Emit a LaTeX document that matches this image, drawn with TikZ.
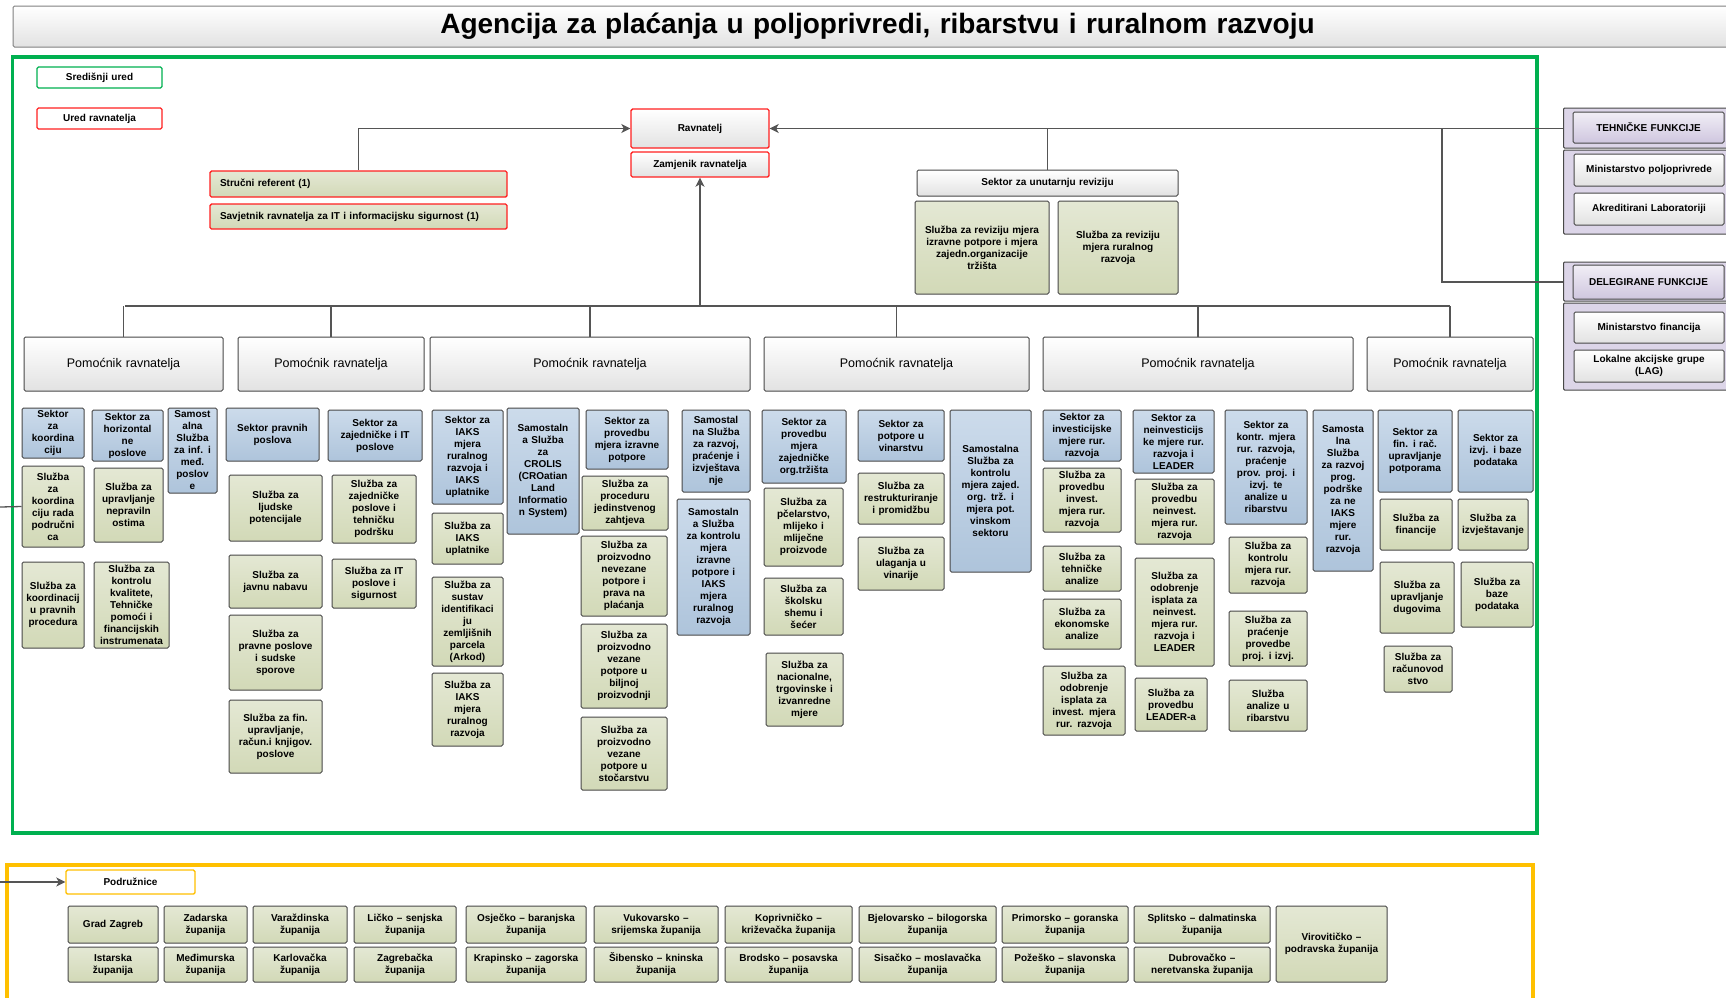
\documentclass[tikz,border=0pt]{standalone}
\usepackage{fontspec}
\setmainfont{Liberation Sans}
\usetikzlibrary{arrows.meta}

\definecolor{zelena}{HTML}{00B050}
\definecolor{crvena}{HTML}{FF2020}
\definecolor{zuta}{HTML}{FFC000}
\definecolor{rub}{HTML}{484848}
\definecolor{linija}{HTML}{555555}
\definecolor{maslinagore}{HTML}{E4E8D4}
\definecolor{maslinadolje}{HTML}{D2D9B7}
\definecolor{plavagore}{HTML}{CCDBEB}
\definecolor{plavadolje}{HTML}{AEC4DB}
\definecolor{sivadolje}{HTML}{E2E2E2}
\definecolor{ljubicasta}{HTML}{DCD5E8}
\definecolor{ljubicastadolje}{HTML}{CFC6DF}

\tikzset{
  span/.style args={#1,#2,#3,#4}{at={({(#1+#3)/2},{(#2+#4)/2})},
    minimum width={(#3-#1)*1pt}, minimum height={(#4-#2)*1pt},
    text width={(#3-#1-4)*1pt}},
  kutija/.style={draw=rub, line width=1pt, rounded corners=1.5pt, inner sep=1pt,
    align=center, font=\fontsize{10}{12}\selectfont\bfseries},
  sluzba/.style={kutija, top color=maslinagore, bottom color=maslinadolje},
  sektor/.style={kutija, top color=plavagore, bottom color=plavadolje},
  pomocnik/.style={kutija, top color=white, bottom color=sivadolje,
    font=\fontsize{12.5}{14}\selectfont},
  bijela/.style={kutija, top color=white, bottom color=sivadolje},
  ured/.style={draw=crvena, line width=1.4pt},
  grupa/.style={draw=rub, line width=1pt, fill=ljubicasta, rounded corners=1pt},
  veza/.style={draw=linija, line width=1.3pt},
  strelica/.style={veza, -{Stealth[length=9pt,width=9pt,inset=2.5pt]}},
}

\begin{document}
\begin{tikzpicture}[x=1pt,y=-1pt]
  \useasboundingbox (0,0) rectangle (1726,997);
  \clip (0,0) rectangle (1726,997);

  % naslov
  \node[bijela, draw=gray, span={13,6,1742,47}, font=\fontsize{28}{32}\selectfont\bfseries] (naslov)
    {Agencija za plaćanja u poljoprivredi, ribarstvu i ruralnom razvoju};

  % okviri
  \draw[zelena, line width=3.5pt] (12.5,57) rectangle (1537,833);
  \draw[zuta, line width=3.5pt] (7,865) rectangle (1533,1010);

  % legenda
  \node[kutija, fill=white, draw=zelena, line width=1.4pt, span={37,67,162,88}] (sredisnji) {Središnji ured};
  \node[kutija, fill=white, ured, span={37,108,162,129}] (uredrav) {Ured ravnatelja};

  % ured ravnatelja
  \node[bijela, ured, span={631,109,769,148}] (ravnatelj) {Ravnatelj};
  \node[bijela, ured, span={631,152,769,177}] (zamjenik) {Zamjenik ravnatelja};
  \node[sluzba, ured, align=left, span={210,171,507,197}, text width=277pt] (strucni) {Stručni referent (1)};
  \node[sluzba, ured, align=left, span={210,204,507,229}, text width=277pt] (savjetnik)
    {Savjetnik ravnatelja za IT i informacijsku sigurnost (1)};

  % unutarnja revizija
  \node[bijela, span={917,170,1178,196}] (revizija) {Sektor za unutarnju reviziju};
  \node[sluzba, span={915,201,1049,294}] (revizijaA)
    {Služba za reviziju mjera\\izravne potpore i mjera\\zajedn.organizacije\\tržišta};
  \node[sluzba, span={1058,201,1178,294}] (revizijaB)
    {Služba za reviziju\\mjera ruralnog\\razvoja};

  % tehnicke i delegirane funkcije
  \node[grupa, span={1565,108,1738,148}] (tehgore) {};
  \node[grupa, span={1565,150,1738,234}] (tehdole) {};
  \node[kutija, top color=ljubicasta!40, bottom color=ljubicastadolje, span={1573,112,1724,143}] (tehnicke) {TEHNIČKE FUNKCIJE};
  \node[bijela, span={1574,154,1724,186}] (minpolj) {Ministarstvo poljoprivrede};
  \node[bijela, span={1574,193,1724,225}] (akred) {Akreditirani Laboratoriji};
  \node[grupa, span={1565,262,1738,301}] (delgore) {};
  \node[grupa, span={1565,303,1738,390}] (deldole) {};
  \node[kutija, top color=ljubicasta!40, bottom color=ljubicastadolje, span={1573,265,1724,299}] (delegirane) {DELEGIRANE FUNKCIJE};
  \node[bijela, span={1574,312,1724,343}] (minfin) {Ministarstvo financija};
  \node[bijela, span={1574,350,1724,382}] (lag) {Lokalne akcijske grupe\\(LAG)};

  % pomocnici ravnatelja
  \node[pomocnik, span={24,337,223,391}] (pom1) {Pomoćnik ravnatelja};
  \node[pomocnik, span={238,337,424,391}] (pom2) {Pomoćnik ravnatelja};
  \node[pomocnik, span={430,337,750,391}] (pom3) {Pomoćnik ravnatelja};
  \node[pomocnik, span={764,337,1029,391}] (pom4) {Pomoćnik ravnatelja};
  \node[pomocnik, span={1043,337,1353,391}] (pom5) {Pomoćnik ravnatelja};
  \node[pomocnik, span={1367,337,1533,391}] (pom6) {Pomoćnik ravnatelja};

  % 1. pomocnik
  \node[sektor, span={22,408,84,458}] (koord) {Sektor\\za\\koordina\\ciju};
  \node[sluzba, span={22,466,84,547}] (koordrada) {Služba\\za\\koordina\\ciju rada\\područni\\ca};
  \node[sluzba, span={22,562,84,648}] (koordproc) {Služba za\\koordinacij\\u pravnih\\procedura};
  \node[sektor, span={92,410,163,461}] (horiz) {Sektor za\\horizontal\\ne\\poslove};
  \node[sluzba, span={94,468,163,542}] (neprav) {Služba za\\upravljanje\\nepraviln\\ostima};
  \node[sluzba, span={94,562,169,648}] (kvaliteta) {Služba za\\kontrolu\\kvalitete,\\Tehničke\\pomoći i\\financijskih\\instrumenata};
  \node[sektor, span={168,408,217,493}] (infmed) {Samost\\alna\\Služba\\za inf. i\\međ.\\poslov\\e};

  % 2. pomocnik
  \node[sektor, span={226,408,319,461}] (pravni) {Sektor pravnih\\poslova};
  \node[sluzba, span={229,475,322,541}] (ljudski) {Služba za\\ljudske\\potencijale};
  \node[sluzba, span={229,555,322,608}] (nabava) {Služba za\\javnu nabavu};
  \node[sluzba, span={229,615,322,690}] (sporovi) {Služba za\\pravne poslove\\i sudske\\sporove};
  \node[sluzba, span={229,700,322,773}] (finupr) {Služba za fin.\\upravljanje,\\račun.i knjigov.\\poslove};
  \node[sektor, span={328,410,422,461}] (zajit) {Sektor za\\zajedničke i IT\\poslove};
  \node[sluzba, span={332,475,416,543}] (tehpod) {Služba za\\zajedničke\\poslove i\\tehničku\\podršku};
  \node[sluzba, span={332,559,416,608}] (itsig) {Služba za IT\\poslove i\\sigurnost};

  % 3. pomocnik
  \node[sektor, span={432,410,503,504}] (iaks) {Sektor za\\IAKS\\mjera\\ruralnog\\razvoja i\\IAKS\\uplatnike};
  \node[sluzba, span={432,513,503,564}] (iaksupl) {Služba za\\IAKS\\uplatnike};
  \node[sluzba, span={432,577,503,666}] (arkod) {Služba za\\sustav\\identifikaci\\ju\\zemljišnih\\parcela\\(Arkod)};
  \node[sluzba, span={432,673,503,746}] (iaksrr) {Služba za\\IAKS\\mjera\\ruralnog\\razvoja};
  \node[sektor, span={507,408,579,534}] (crolis) {Samostaln\\a Služba\\za\\CROLIS\\(CROatian\\Land\\Informatio\\n System)};
  \node[sektor, span={586,410,668,469}] (izravne) {Sektor za\\provedbu\\mjera izravne\\potpore};
  \node[sluzba, span={582,476,668,530}] (jedzaht) {Služba za\\proceduru\\jedinstvenog\\zahtjeva};
  \node[sluzba, span={581,536,667,616}] (nevezane) {Služba za\\proizvodno\\nevezane\\potpore i\\prava na\\plaćanja};
  \node[sluzba, span={581,624,667,708}] (biljna) {Služba za\\proizvodno\\vezane\\potpore u\\biljnoj\\proizvodnji};
  \node[sluzba, span={581,717,667,790}] (stocarstvo) {Služba za\\proizvodno\\vezane\\potpore u\\stočarstvu};
  \node[sektor, span={682,410,750,492}] (razvoj) {Samostal\\na Služba\\za razvoj,\\praćenje i\\izvještava\\nje};
  \node[sektor, span={677,499,750,635}] (kontizr) {Samostaln\\a Služba\\za kontrolu\\mjera\\izravne\\potpore i\\IAKS\\mjera\\ruralnog\\razvoja};

  % 4. pomocnik
  \node[sektor, span={762,410,846,483}] (zot) {Sektor za\\provedbu\\mjera\\zajedničke\\org.tržišta};
  \node[sluzba, span={764,488,843,566}] (pcele) {Služba za\\pčelarstvo,\\mlijeko i\\mliječne\\proizvode};
  \node[sluzba, span={764,578,843,635}] (skolska) {Služba za\\školsku\\shemu i\\šećer};
  \node[sluzba, span={766,653,843,726}] (nacion) {Služba za\\nacionalne,\\trgovinske i\\izvanredne\\mjere};
  \node[sektor, span={858,410,944,461}] (vino) {Sektor za\\potpore u\\vinarstvu};
  \node[sluzba, span={858,473,944,524}] (restr) {Služba za\\restrukturiranje\\i promidžbu};
  \node[sluzba, span={858,537,944,590}] (vinarije) {Služba za\\ulaganja u\\vinarije};
  \node[sektor, span={950,410,1031,572}] (kontzot) {Samostalna\\Služba za\\kontrolu\\mjera zajed.\\org. trž. i\\mjera pot.\\vinskom\\sektoru};

  % 5. pomocnik
  \node[sektor, span={1043,410,1121,461}] (invest) {Sektor za\\investicijske\\mjere rur.\\razvoja};
  \node[sluzba, span={1043,468,1121,532}] (provinv) {Služba za\\provedbu\\invest.\\mjera rur.\\razvoja};
  \node[sluzba, span={1043,546,1121,591}] (tehan) {Služba za\\tehničke\\analize};
  \node[sluzba, span={1043,599,1121,649}] (ekoan) {Služba za\\ekonomske\\analize};
  \node[sluzba, span={1043,666,1125,735}] (odobinv) {Služba za\\odobrenje\\isplata za\\invest. mjera\\rur. razvoja};
  \node[sektor, span={1133,410,1214,473}] (neinvest) {Sektor za\\neinvesticijs\\ke mjere rur.\\razvoja i\\LEADER};
  \node[sluzba, span={1135,479,1214,544}] (provneinv) {Služba za\\provedbu\\neinvest.\\mjera rur.\\razvoja};
  \node[sluzba, span={1135,558,1214,666}] (odobneinv) {Služba za\\odobrenje\\isplata za\\neinvest.\\mjera rur.\\razvoja i\\LEADER};
  \node[sluzba, span={1135,678,1207,731}] (leader) {Služba za\\provedbu\\LEADER-a};
  \node[sektor, span={1225,410,1307,524}] (kontrr) {Sektor za\\kontr. mjera\\rur. razvoja,\\praćenje\\prov. proj. i\\izvj. te\\analize u\\ribarstvu};
  \node[sluzba, span={1229,537,1307,593}] (kontmjera) {Služba za\\kontrolu\\mjera rur.\\razvoja};
  \node[sluzba, span={1229,611,1307,666}] (pracenje) {Služba za\\praćenje\\provedbe\\proj. i izvj.};
  \node[sluzba, span={1229,680,1307,731}] (ribarstvo) {Služba\\analize u\\ribarstvu};
  \node[sektor, span={1313,410,1373,571}] (progpod) {Samosta\\lna\\Služba\\za razvoj\\prog.\\podrške\\za ne\\IAKS\\mjere\\rur.\\razvoja};

  % 6. pomocnik
  \node[sektor, span={1378,410,1452,492}] (finrac) {Sektor za\\fin. i rač.\\upravljanje\\potporama};
  \node[sluzba, span={1380,499,1452,550}] (financije) {Služba za\\financije};
  \node[sluzba, span={1380,562,1454,633}] (dugovi) {Služba za\\upravljanje\\dugovima};
  \node[sluzba, span={1384,646,1452,692}] (racunovod) {Služba za\\računovod\\stvo};
  \node[sektor, span={1458,410,1533,492}] (izvjbaze) {Sektor za\\izvj. i baze\\podataka};
  \node[sluzba, span={1458,499,1528,550}] (izvjest) {Služba za\\izvještavanje};
  \node[sluzba, span={1461,562,1533,627}] (baze) {Služba za\\baze\\podataka};

  % podruznice
  \node[kutija, fill=white, draw=zuta, line width=1.4pt, span={66,870,195,894}] (podruznice) {Podružnice};
  \node[sluzba, span={68,906,158,943}] (zagreb) {Grad Zagreb};
  \node[sluzba, span={164,906,247,943}] (zadar) {Zadarska\\županija};
  \node[sluzba, span={253,906,347,943}] (varazdin) {Varaždinska\\županija};
  \node[sluzba, span={354,906,456,943}] (lika) {Ličko – senjska\\županija};
  \node[sluzba, span={466,906,586,943}] (osijek) {Osječko – baranjska\\županija};
  \node[sluzba, span={594,906,718,943}] (vukovar) {Vukovarsko –\\srijemska županija};
  \node[sluzba, span={725,906,852,943}] (koprivnica) {Koprivničko –\\križevačka županija};
  \node[sluzba, span={859,906,996,943}] (bjelovar) {Bjelovarsko – bilogorska\\županija};
  \node[sluzba, span={1002,906,1128,943}] (rijeka) {Primorsko – goranska\\županija};
  \node[sluzba, span={1134,906,1270,943}] (split) {Splitsko – dalmatinska\\županija};
  \node[sluzba, span={68,947,158,982}] (istra) {Istarska\\županija};
  \node[sluzba, span={164,947,247,982}] (medjimurje) {Međimurska\\županija};
  \node[sluzba, span={253,947,347,982}] (karlovac) {Karlovačka\\županija};
  \node[sluzba, span={354,947,456,982}] (zagzup) {Zagrebačka\\županija};
  \node[sluzba, span={466,947,586,982}] (krapina) {Krapinsko – zagorska\\županija};
  \node[sluzba, span={594,947,718,982}] (sibenik) {Šibensko – kninska\\županija};
  \node[sluzba, span={725,947,852,982}] (brod) {Brodsko – posavska\\županija};
  \node[sluzba, span={859,947,996,982}] (sisak) {Sisačko – moslavačka\\županija};
  \node[sluzba, span={1002,947,1128,982}] (pozega) {Požeško – slavonska\\županija};
  \node[sluzba, span={1134,947,1270,982}] (dubrovnik) {Dubrovačko –\\neretvanska županija};
  \node[sluzba, span={1276,906,1387,982}] (virovitica) {Virovitičko –\\podravska županija};

  % veze
  \coordinate (busL) at (125,306);
  \coordinate (busR) at (1450,306);
  \coordinate (delsplit) at (1442,128);
  \coordinate (rubA) at (0,507);
  \coordinate (rubB) at (0,882);

  \draw[strelica] (strucni.north) |- (ravnatelj.west);
  \draw[strelica] (ravnatelj.east -| tehgore.west) -- (ravnatelj.east);
  \draw[veza] (revizija.north) -- (revizija.north |- ravnatelj.east);
  \draw[veza] (delsplit) |- (delegirane.west -| delgore.west);
  \draw[veza] (busL) -- (busR);
  \foreach \p in {pom1,pom2,pom3,pom4,pom5,pom6}
    \draw[veza] (\p.north) -- (\p.north |- busL);
  \draw[strelica] (zamjenik.south |- busL) -- (zamjenik.south);
  \draw[veza] (rubA) -- (koordrada.west);
  \draw[strelica] (rubB) -- (podruznice.west);
\end{tikzpicture}
\end{document}
